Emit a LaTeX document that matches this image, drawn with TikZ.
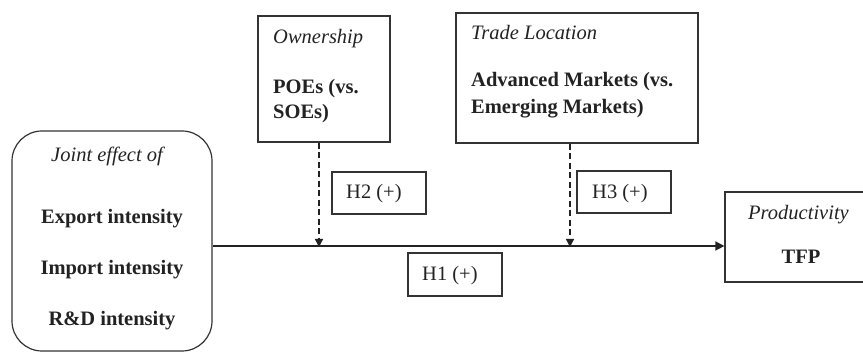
\documentclass[tikz,border=0pt]{standalone}
\usepackage{fontspec}
\setmainfont{Liberation Serif}
\usetikzlibrary{arrows.meta}
\definecolor{ink}{HTML}{222222}
\definecolor{linec}{HTML}{333333}
\tikzset{
  box/.style={draw=linec, line width=1.2pt, rectangle, inner sep=0pt, anchor=center},
  txt/.style={inner sep=0pt, text=ink, font=\fontsize{20.5}{25}\selectfont},
  lbl/.style={txt, anchor=base west},
  clbl/.style={txt, anchor=base},
  mainarrow/.style={draw=ink, line width=1.5pt, -{Triangle[length=9pt,width=9pt]}},
  modarrow/.style={draw=ink, line width=1.3pt, dash pattern=on 6pt off 3.5pt, -{Triangle[length=8pt,width=8pt]}},
}
\begin{document}
\begin{tikzpicture}[x=1pt,y=-1pt]
\useasboundingbox (0,0) rectangle (863,352);
\clip (0,0) rectangle (863,352);
% boxes
\node[box, rounded corners=30pt, minimum width=200pt, minimum height=220pt] (left) at (112,241) {};
\node[box, minimum width=132pt, minimum height=126pt] (own) at (324,79) {};
\node[box, minimum width=242pt, minimum height=130pt] (trade) at (577,78) {};
\node[box, minimum width=150pt, minimum height=90pt] (prod) at (800,237) {};
\node[box, minimum width=94pt, minimum height=43pt] (h1) at (455,274.5) {};
\node[box, minimum width=94pt, minimum height=42pt] (h2) at (379,193) {};
\node[box, minimum width=94pt, minimum height=42pt] (h3) at (624,192) {};
% texts
\node[clbl] (tjoint) at (107,162) {\itshape Joint effect of};
\node[clbl] (texp) at (112,224) {\bfseries Export intensity};
\node[clbl] (timp) at (112,275) {\bfseries Import intensity};
\node[clbl] (trd) at (112,326) {\bfseries R\&D intensity};
\node[lbl] (town) at (273,44) {\itshape Ownership};
\node[lbl] (tpoe1) at (273,94) {\bfseries POEs (vs.};
\node[lbl] (tpoe2) at (273,119) {\bfseries SOEs)};
\node[lbl] (ttrade) at (471,40) {\itshape Trade Location};
\node[lbl] (tadv1) at (471,87) {\bfseries Advanced Markets (vs.};
\node[lbl] (tadv2) at (471,114) {\bfseries Emerging Markets)};
\node[clbl] (tprod) at (798.5,220) {\itshape Productivity};
\node[clbl] (ttfp) at (801,264) {\bfseries TFP};
\node[lbl] (th1) at (422,281) {H1 (+)};
\node[lbl] (th2) at (346,199) {H2 (+)};
\node[lbl] (th3) at (592,199) {H3 (+)};
% connectors
\coordinate (j2) at (319,246);
\coordinate (j3) at (570,246);
\draw[mainarrow] (left.east |- j2) -- (prod.west |- j2);
\draw[modarrow] (own.south -| j2) -- ([yshift=-1pt]j2);
\draw[modarrow] (trade.south -| j3) -- ([yshift=-1pt]j3);
\end{tikzpicture}
\end{document}
